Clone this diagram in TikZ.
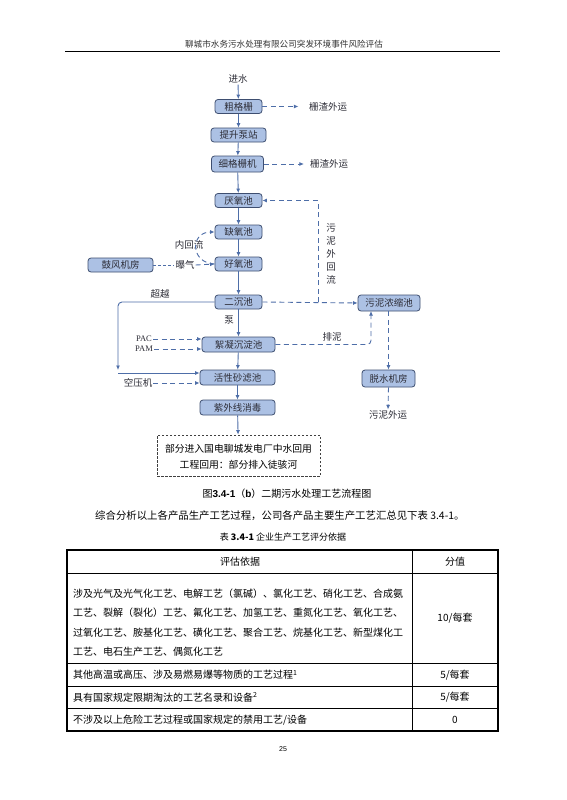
\documentclass[tikz,border=0pt]{standalone}
\usepackage{fontspec}
\setmainfont{Liberation Serif}
\newfontfamily\cjk{Noto Sans CJK SC}
\newfontfamily\lsans{Liberation Sans}
\usetikzlibrary{arrows.meta,calc}
\definecolor{boxfill}{RGB}{172,193,228}
\definecolor{boxline}{RGB}{62,78,112}
\definecolor{flow}{RGB}{78,110,168}
\definecolor{txt}{RGB}{45,45,55}
\begin{document}
\begin{tikzpicture}[x=1pt,y=-1pt,
  box/.style={draw=boxline,fill=boxfill,rounded corners=3pt,line width=0.8pt,inner sep=0pt,minimum height=14pt,text=txt,font=\cjk\fontsize{9.5}{10}\selectfont},
  lbl/.style={inner sep=1pt,text=txt,font=\cjk\fontsize{9.5}{10}\selectfont},
  arr/.style={draw=flow,line width=0.9pt,-{Latex[length=4.5pt,width=4pt]}},
  darr/.style={arr,dash pattern=on 5pt off 3.5pt},
  dline/.style={draw=flow,line width=0.8pt,dash pattern=on 3pt off 2pt},
  body/.style={inner sep=0pt,text=black,font=\cjk\fontsize{10}{12}\selectfont},
  tline/.style={draw=black,line width=0.5pt}]
\useasboundingbox (0,0) rectangle (566,800);
\fill[white] (0,0) rectangle (566,800);
% header
\node[body,font=\cjk\fontsize{8.6}{10}\selectfont,text=black!80] (hdr) at (284,44) {聊城市水务污水处理有限公司突发环境事件风险评估};
\coordinate (hl) at (65,51.5);
\coordinate (hr) at (500,51.5);
\draw[line width=0.7pt] (hl) -- (hr);
% flow boxes
\node[lbl] (in) at (238,79) {进水};
\node[box,minimum width=47pt] (cg) at (238.5,106.5) {粗格栅};
\node[box,minimum width=55pt] (ts1) at (238.5,135) {提升泵站};
\node[box,minimum width=52pt,minimum height=16pt] (xg) at (237.5,164) {细格栅机};
\node[box,minimum width=47pt] (yy) at (238.5,200.5) {厌氧池};
\node[box,minimum width=47pt] (qy) at (238.5,232) {缺氧池};
\node[box,minimum width=47pt] (hy) at (238.5,264) {好氧池};
\node[box,minimum width=47pt] (ec) at (238.5,302) {二沉池};
\node[box,minimum width=65pt] (gf) at (120.5,265) {鼓风机房};
\node[box,minimum width=62pt,minimum height=16pt] (wn) at (389,303) {污泥浓缩池};
\node[box,minimum width=73pt,minimum height=15pt] (xn) at (238.5,344.5) {絮凝沉淀池};
\node[box,minimum width=75pt,minimum height=15pt] (hs) at (237.5,377.5) {活性砂滤池};
\node[box,minimum width=75pt,minimum height=15pt] (zw) at (237.5,407.5) {紫外线消毒};
\node[box,minimum width=53pt,minimum height=17pt] (ts) at (388.5,378.5) {脱水机房};
% labels
\node[lbl] (zy1) at (328,106.5) {栅渣外运};
\node[lbl] (zy2) at (329,164) {栅渣外运};
\node[lbl,align=center,font=\cjk\fontsize{9.5}{13}\selectfont] (whl) at (331,254) {污\\泥\\外\\回\\流};
\node[lbl,fill=white,inner sep=0.5pt] (nhl) at (189,245) {内回流};
\node[lbl] (bq) at (185,265) {曝气};
\node[lbl] (cy) at (160,293.5) {超越};
\node[lbl] (beng) at (229,320) {泵};
\node[lbl,font=\fontsize{8.5}{9}\selectfont] (pac) at (144,339) {PAC};
\node[lbl,font=\fontsize{8.5}{9}\selectfont] (pam) at (144,349) {PAM};
\node[lbl] (pn) at (332,336.5) {排泥};
\node[lbl] (kyj) at (138,383) {空压机};
\node[lbl] (wy) at (388,415) {污泥外运};
\node[draw=black!75,dash pattern=on 2.5pt off 1.5pt,line width=0.8pt,minimum width=163pt,minimum height=41pt,inner sep=0pt] (db) at (238.5,455.5) {};
\node[body,font=\cjk\fontsize{9.8}{12}\selectfont] (db1) at (238.5,448.5) {部分进入国电聊城发电厂中水回用};
\node[body,font=\cjk\fontsize{9.8}{12}\selectfont] (db2) at (238.5,465) {工程回用：部分排入徒骇河};
% main flow
\draw[arr] (in) -- (cg);
\draw[arr] (cg) -- (ts1);
\draw[arr] (ts1) -- (xg);
\draw[arr] (xg) -- (yy);
\draw[arr] (yy) -- (qy);
\draw[arr] (qy) -- (hy);
\draw[arr] (hy) -- (ec);
\draw[arr] (ec) -- (xn);
\draw[arr] (xn) -- (hs);
\draw[arr] (hs) -- (zw);
\draw[arr] (zw) -- (db);
% side flows
\draw[darr] (cg.east) -- ++(36,0);
\draw[darr] (xg.east) -- ++(40,0);
\coordinate (j1) at (318,302);
\draw[darr] (ec.east) -- (wn.west);
\draw[darr] (j1) |- (yy.east);
\draw[darr] (hy.west) .. controls (190,263) and (190,232) .. (qy.west);
\draw[dline] (gf.east) -- (bq.west);
\draw[darr] (bq.east) -- (hy.west);
\coordinate (c1) at (118,370);
\coordinate (c2) at (118,373);
\draw[arr,rounded corners=4pt] (ec.west) -| (c1);
\draw[arr] (c2) -- (c2 -| hs.west);
\draw[darr] (pac.east) -- (pac.east -| xn.west);
\draw[darr] (pam.east) -- (pam.east -| xn.west);
\coordinate (pm) at (371,311);
\draw[darr,rounded corners=4pt] (xn.east) -| (pm);
\draw[darr] (kyj.east) -- (kyj.east -| hs.west);
\draw[darr] (wn.south -| ts.north) -- (ts.north);
\draw[darr] (ts.south) -- (wy.north);
% caption and text
\node[body,font=\cjk\fontsize{10}{12}\selectfont] (cap) at (287,494) {图{\lsans\bfseries 3.4-1}（{\lsans\bfseries b}）二期污水处理工艺流程图};
\node[body,font=\cjk\fontsize{10.4}{12}\selectfont,anchor=west] (para) at (95,516) {综合分析以上各产品生产工艺过程，公司各产品主要生产工艺汇总见下表 3.4-1。};
\node[body,font=\cjk\fontsize{9}{11}\selectfont] (tcap) at (283,537) {表 {\bfseries 3.4-1} 企业生产工艺评分依据};
% table
\coordinate (tl) at (67,550);
\coordinate (br) at (498,731);
\draw[line width=1.3pt] (tl) rectangle (br);
\coordinate (cx1) at (412,550);
\coordinate (cx2) at (412,731);
\draw[tline] (cx1) -- (cx2);
\coordinate (r1l) at (67,573); \coordinate (r1r) at (498,573);
\coordinate (r2l) at (67,663); \coordinate (r2r) at (498,663);
\coordinate (r3l) at (67,686); \coordinate (r3r) at (498,686);
\coordinate (r4l) at (67,708.5); \coordinate (r4r) at (498,708.5);
\draw[tline] (r1l) -- (r1r);
\draw[tline] (r2l) -- (r2r);
\draw[tline] (r3l) -- (r3r);
\draw[tline] (r4l) -- (r4r);
\node[body] (th1) at (240,561.5) {评估依据};
\node[body] (th2) at (455,561.5) {分值};
\node[body,anchor=west] (a1) at (73,593.5) {涉及光气及光气化工艺、电解工艺（氯碱）、氯化工艺、硝化工艺、合成氨};
\node[body,anchor=west] (a2) at (73,613) {工艺、裂解（裂化）工艺、氟化工艺、加氢工艺、重氮化工艺、氧化工艺、};
\node[body,anchor=west] (a3) at (73,632.5) {过氧化工艺、胺基化工艺、磺化工艺、聚合工艺、烷基化工艺、新型煤化工};
\node[body,anchor=west] (a4) at (73,652) {工艺、电石生产工艺、偶氮化工艺};
\node[body] (v1) at (455,618) {10/每套};
\node[body,anchor=west] (b1) at (73,675) {其他高温或高压、涉及易燃易爆等物质的工艺过程\textsuperscript{1}};
\node[body] (v2) at (455,675) {5/每套};
\node[body,anchor=west] (b2) at (73,697.5) {具有国家规定限期淘汰的工艺名录和设备\textsuperscript{2}};
\node[body] (v3) at (455,697.5) {5/每套};
\node[body,anchor=west] (b3) at (73,720) {不涉及以上危险工艺过程或国家规定的禁用工艺/设备};
\node[body] (v4) at (455,720) {0};
\node[body,font=\lsans\fontsize{7}{8}\selectfont] (pg) at (283,749) {25};
\end{tikzpicture}
\end{document}
